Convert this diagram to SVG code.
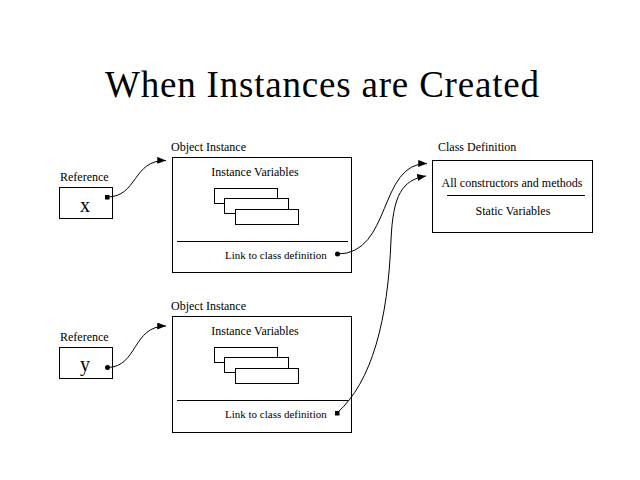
<svg xmlns="http://www.w3.org/2000/svg" width="640" height="480" viewBox="0 0 640 480">
  <style>
    text { font-family: "Liberation Serif", "Times New Roman", serif; fill: #000; }
    .title { font-size: 37px; text-anchor: middle; }
    .lbl { font-size: 12px; }
    .small { font-size: 11px; }
    .mid { text-anchor: middle; }
    .var { font-size: 20px; text-anchor: middle; }
    .box { fill: #fff; stroke: #000; stroke-width: 1; }
    .rule { stroke: #000; stroke-width: 1; }
    .wire { fill: none; stroke: #000; stroke-width: 1; }
  </style>
  <defs>
    <marker id="arrow" viewBox="0 0 10 8" refX="10" refY="4" markerWidth="9" markerHeight="7" markerUnits="userSpaceOnUse" orient="auto">
      <path d="M0,0 L10,4 L0,8 Z" fill="#000"/>
    </marker>
  </defs>

  <rect width="640" height="480" fill="#fff"/>

  <text class="title" x="322" y="97" textLength="434" lengthAdjust="spacing">When Instances are Created</text>

  <!-- reference x -->
  <g id="ref-x">
    <text class="lbl" x="60" y="181">Reference</text>
    <rect class="box" x="59.5" y="187.5" width="53" height="31"/>
    <text class="var" x="85" y="212">x</text>
    <rect x="105" y="195" width="4.5" height="4.5" fill="#000"/>
  </g>

  <!-- first object instance -->
  <g id="object-1">
    <text class="lbl" x="171" y="151">Object Instance</text>
    <rect class="box" x="172.5" y="157.5" width="179" height="115"/>
    <text class="lbl mid" x="255" y="176">Instance Variables</text>
    <rect class="box" x="214.5" y="188.5" width="63" height="15"/>
    <rect class="box" x="224.5" y="198.5" width="64" height="15"/>
    <rect class="box" x="235.5" y="209.5" width="63" height="15"/>
    <line class="rule" x1="177" y1="241.5" x2="348" y2="241.5"/>
    <text class="small" x="225" y="259">Link to class definition</text>
    <circle cx="337.5" cy="254" r="2.5" fill="#000"/>
  </g>

  <!-- reference y -->
  <g id="ref-y">
    <text class="lbl" x="60" y="341">Reference</text>
    <rect class="box" x="59.5" y="347.5" width="53" height="31"/>
    <text class="var" x="85" y="371">y</text>
    <circle cx="107.5" cy="367.5" r="2.5" fill="#000"/>
  </g>

  <!-- second object instance -->
  <g id="object-2">
    <text class="lbl" x="171" y="310">Object Instance</text>
    <rect class="box" x="172.5" y="316.5" width="179" height="116"/>
    <text class="lbl mid" x="255" y="335">Instance Variables</text>
    <rect class="box" x="214.5" y="347.5" width="63" height="15"/>
    <rect class="box" x="224.5" y="357.5" width="64" height="15"/>
    <rect class="box" x="235.5" y="368.5" width="63" height="15"/>
    <line class="rule" x1="177" y1="400.5" x2="348" y2="400.5"/>
    <text class="small" x="225" y="418">Link to class definition</text>
    <rect x="335" y="411" width="4.5" height="4.5" fill="#000"/>
  </g>

  <!-- class definition -->
  <g id="class-def">
    <text class="lbl" x="438" y="151">Class Definition</text>
    <rect class="box" x="432.5" y="160.5" width="160" height="72"/>
    <text class="lbl mid" x="512" y="187">All constructors and methods</text>
    <line class="rule" x1="447" y1="195.5" x2="585" y2="195.5"/>
    <text class="lbl mid" x="513" y="215">Static Variables</text>
  </g>

  <!-- connectors -->
  <g id="connectors">
    <path class="wire" d="M107,197 C138,197 132,160 166,160.5" marker-end="url(#arrow)"/>
    <path class="wire" d="M337.5,254 C392,254 378,163 427,163.5" marker-end="url(#arrow)"/>
    <path class="wire" d="M107.5,367.5 C138,367 132,326 166,326" marker-end="url(#arrow)"/>
    <path class="wire" d="M337,413 C372,382 388,320 391,240 C393,195 402,180 426,176" marker-end="url(#arrow)"/>
  </g>
</svg>
